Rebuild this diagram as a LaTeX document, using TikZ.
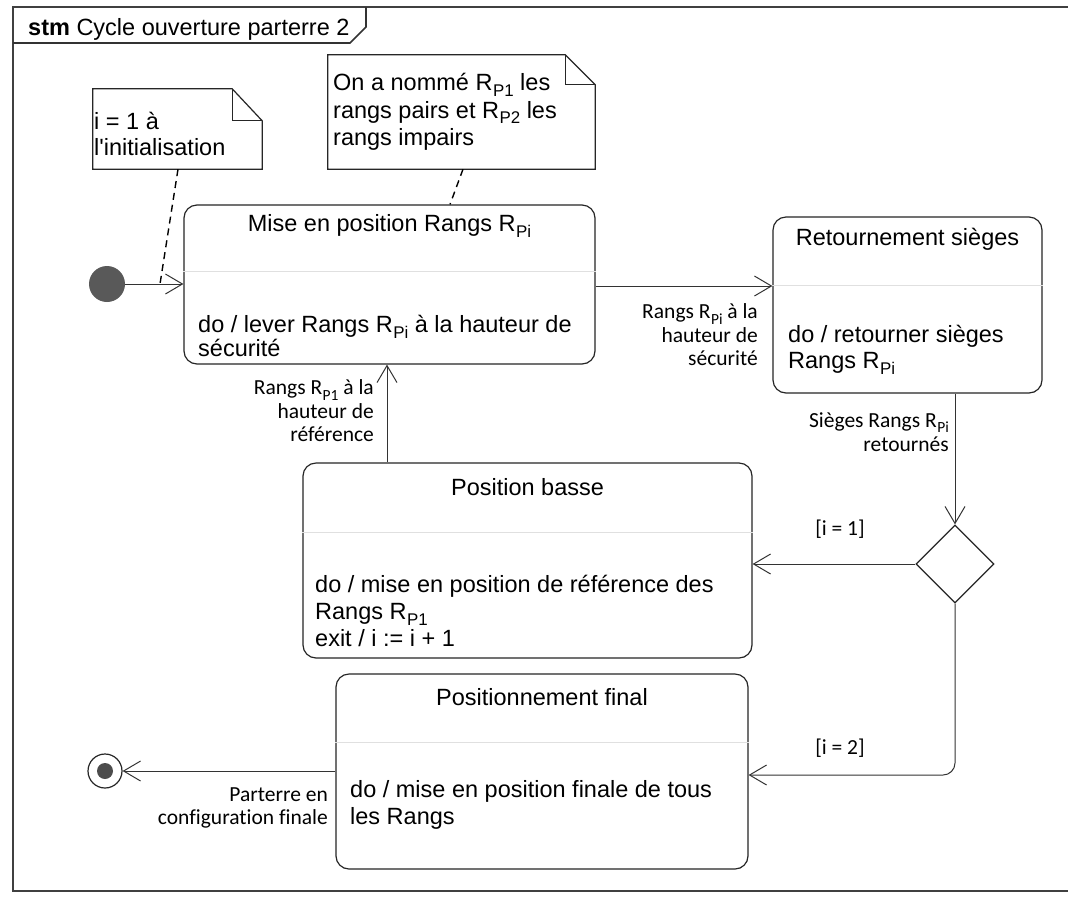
\documentclass[tikz,border=0pt]{standalone}
\usepackage{fontspec}
\usepackage{graphicx}
\setmainfont{Liberation Sans}[Ligatures=TeXOff]
\newfontfamily\labfont{Carlito}[Ligatures={TeXOff,NoCommon}]
\usetikzlibrary{arrows.meta,shapes.geometric,calc}
\newcommand\Rsub[1]{R\kern0.02em\raisebox{-0.24em}{\scalebox{0.72}{#1}}}
\begin{document}
\begin{tikzpicture}[x=1pt,y=-1pt,
  txt/.style={font=\fontsize{23.5}{27}\selectfont, inner sep=0pt, align=left},
  lab/.style={font=\labfont\fontsize{21.5}{23.5}\selectfont, inner sep=0pt, align=right, anchor=east},
  guard/.style={font=\labfont\fontsize{21.5}{23.5}\selectfont, inner sep=0pt},
  statebox/.style={draw=black!85, line width=1.2pt, rounded corners=13pt, inner sep=0pt},
  sepline/.style={draw=black!12, line width=0.8pt},
  trans/.style={draw=black!80, line width=1pt, -{Straight Barb[length=17pt,width=20pt,line width=1pt]}},
  notebox/.style={draw=black!85, line width=1.2pt, line join=miter},
  anchorline/.style={draw=black, line width=1.4pt, dash pattern=on 7pt off 5pt},
]
\useasboundingbox (0,0) rectangle (1068,898);
\fill[white] (0,0) rectangle (1068,898);

% frame
\draw[line width=2.2pt, black!75] (1068,7) -- (13,7) -- (13,891) -- (1068,891);
\draw[line width=1.6pt, black!80] (13,43) -- (350,43) -- (366,27) -- (366,7);
\node[txt, anchor=west] (title) at (28,29) {\textbf{stm} Cycle ouverture parterre 2};

% initial state
\node[circle, fill=black!65, minimum size=36pt, inner sep=0pt] (init) at (107,284) {};
\coordinate (ij) at (160,284);

% state 1
\node[statebox, minimum width=411pt, minimum height=159pt] (s1) at (389.5,284.5) {};
\node[txt] (s1t) at (389.5,226) {Mise en position Rangs \Rsub{Pi}};
\coordinate (y1) at (0,271);
\draw[sepline] (s1.west |- y1) -- (s1.east |- y1);
\node[txt, anchor=west, font=\fontsize{23.5}{24}\selectfont] (s1b) at (198,336) {do / lever Rangs \Rsub{Pi} à la hauteur de\\sécurité};

% state 2
\node[statebox, minimum width=269pt, minimum height=176pt] (s2) at (907.5,305) {};
\node[txt] (s2t) at (907.5,239) {Retournement sièges};
\coordinate (y2) at (0,285);
\draw[sepline] (s2.west |- y2) -- (s2.east |- y2);
\node[txt, anchor=west, font=\fontsize{23.5}{26}\selectfont] (s2b) at (788,350) {do / retourner sièges\\Rangs \Rsub{Pi}};

% decision
\node[diamond, draw=black!85, line width=1.2pt, minimum size=78pt, inner sep=0pt, shape aspect=1] (dec) at (955,564) {};

% state 3
\node[statebox, minimum width=449pt, minimum height=195pt] (s3) at (527.5,560.5) {};
\node[txt] (s3t) at (527.5,487) {Position basse};
\coordinate (y3) at (0,532);
\draw[sepline] (s3.west |- y3) -- (s3.east |- y3);
\node[txt, anchor=west] (s3b) at (315,611) {do / mise en position de référence des\\Rangs \Rsub{P1}\\exit / i := i + 1};

% state 4
\node[statebox, minimum width=412pt, minimum height=195pt] (s4) at (542,771.5) {};
\node[txt] (s4t) at (542,697) {Positionnement final};
\coordinate (y4) at (0,742);
\draw[sepline] (s4.west |- y4) -- (s4.east |- y4);
\node[txt, anchor=west] (s4b) at (350,805) {do / mise en position finale de tous\\les Rangs};

% final state
\node[circle, draw=black!85, line width=1.2pt, fill=white, minimum size=34pt, inner sep=0pt] (fin) at (105,771) {};
\node[circle, fill=black!70, minimum size=16pt, inner sep=0pt] (finin) at (fin.center) {};

% notes
\node[minimum width=169pt, minimum height=80pt, inner sep=0pt] (n1) at (177.5,129) {};
\draw[notebox] (n1.south west) -- (n1.north west) -- ($(n1.north east)+(-30,0)$) -- ($(n1.north east)+(0,32)$) -- (n1.south east) -- cycle;
\draw[notebox] ($(n1.north east)+(-30,0)$) -- ($(n1.north east)+(-30,32)$) -- ($(n1.north east)+(0,32)$);
\node[txt, anchor=west, font=\fontsize{23.5}{26}\selectfont] (n1t) at (94,134) {i = 1 à\\l'initialisation};

\node[minimum width=267pt, minimum height=114pt, inner sep=0pt] (n2) at (461.5,112) {};
\draw[notebox] (n2.south west) -- (n2.north west) -- ($(n2.north east)+(-30,0)$) -- ($(n2.north east)+(0,30)$) -- (n2.south east) -- cycle;
\draw[notebox] ($(n2.north east)+(-30,0)$) -- ($(n2.north east)+(-30,30)$) -- ($(n2.north east)+(0,30)$);
\node[txt, anchor=west, font=\fontsize{23.5}{27.5}\selectfont] (n2t) at (333,112) {On a nommé \Rsub{P1} les\\rangs pairs et \Rsub{P2} les\\rangs impairs};

\draw[anchorline] ($(n1.south)+(0.5,0)$) -- (ij);
\draw[anchorline] ($(n2.south)+(1.5,0)$) -- ($(s1.north)+(60.5,0)$);

% transitions
\draw[trans] (init) -- (init -| s1.west);

\coordinate (y12) at (0,286);
\draw[trans] (s1.east |- y12) -- (s2.west |- y12);
\node[lab] (l12) at (758,335) {Rangs \Rsub{Pi} à la\\hauteur de\\sécurité};

\draw[trans] (dec.north |- s2.south) -- (dec.north);
\node[lab] (l2d) at (949,432) {Sièges Rangs \Rsub{Pi}\\retournés};

\draw[trans] (dec.west) -- (dec.west -| s3.east);
\node[guard] (g1) at (840,529) {[i = 1]};

\coordinate (x31) at (387,0);
\draw[trans] (s3.north -| x31) -- (s1.south -| x31);
\node[lab] (l31) at (374,411) {Rangs \Rsub{P1} à la\\hauteur de\\référence};

\coordinate (y24) at (0,775);
\draw[trans, rounded corners=12pt] (dec.south) |- (s4.east |- y24);
\node[guard] (g2) at (840,748) {[i = 2]};

\draw[trans] (s4.west |- fin) -- (fin);
\node[lab] (l4f) at (328,808) {Parterre en\\configuration finale};
\end{tikzpicture}
\end{document}
